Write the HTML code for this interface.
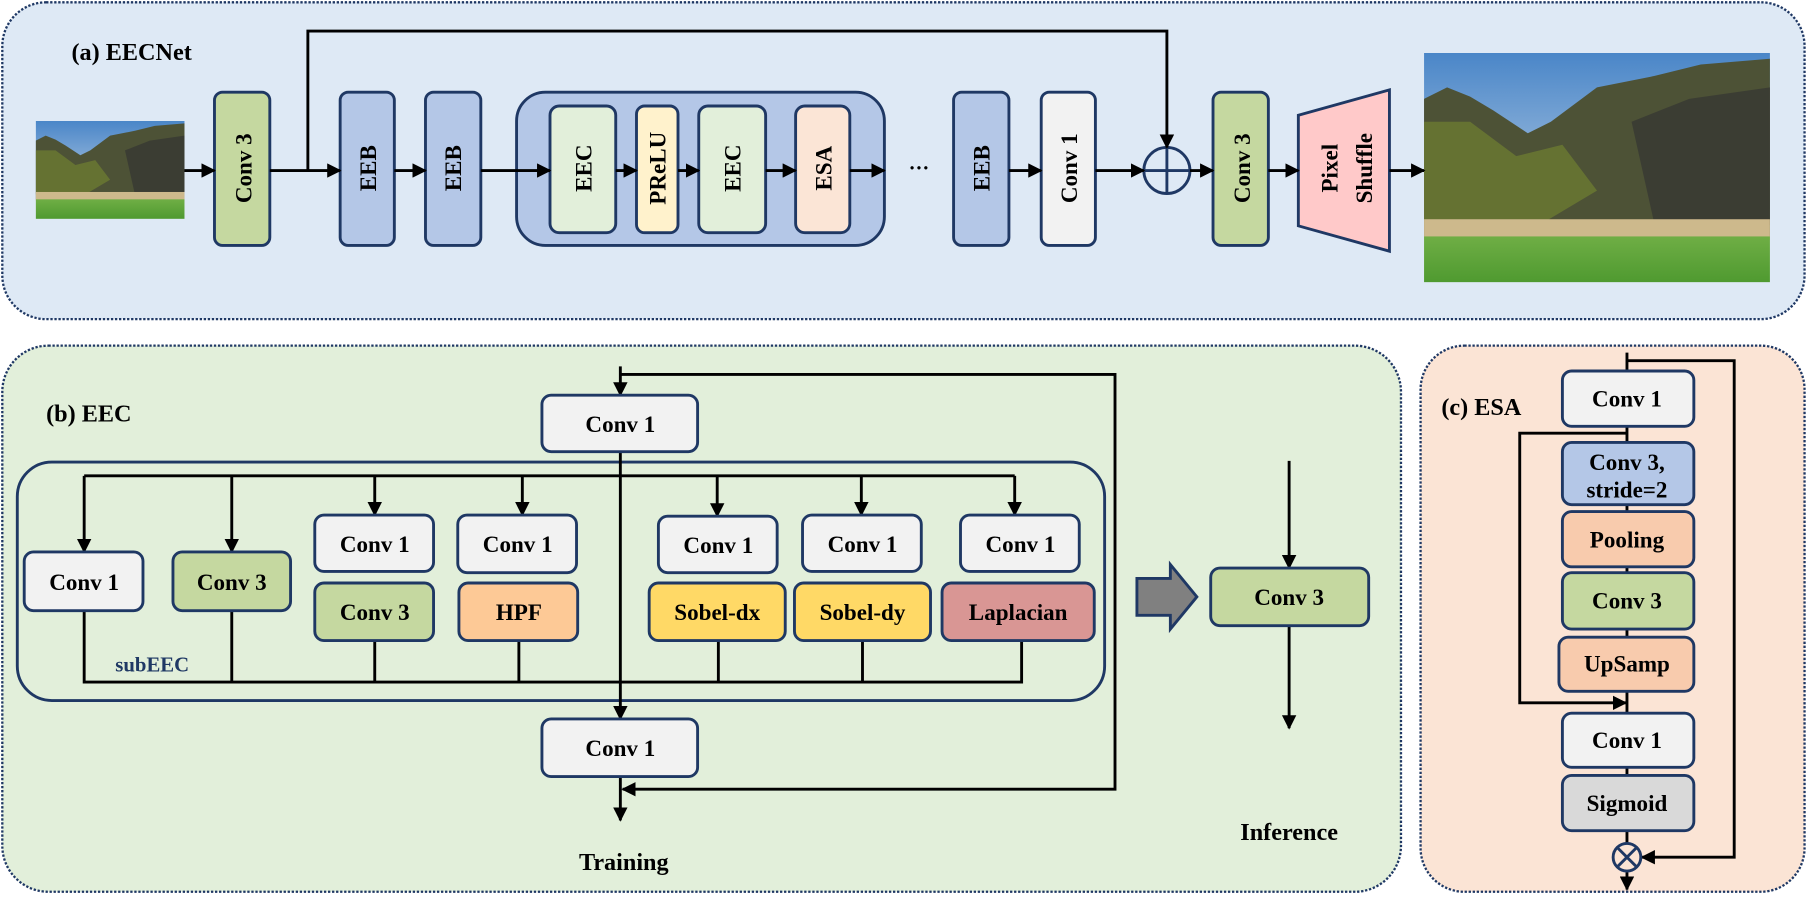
<!DOCTYPE html>
<html><head><meta charset="utf-8"><style>
html,body{margin:0;padding:0;background:#fff;overflow:hidden;}
svg{display:block;}
text{font-family:"Liberation Serif",serif;font-weight:bold;fill:#000;}
</style></head><body>
<svg width="1808" height="901" viewBox="0 0 1568 782" preserveAspectRatio="none" xmlns="http://www.w3.org/2000/svg">
<defs>
<marker id="ar" viewBox="0 0 10 10" refX="9" refY="5" markerWidth="5" markerHeight="5" orient="auto"><path d="M0,0 L10,5 L0,10 z" fill="#000"/></marker>
<linearGradient id="sky" x1="0" y1="0" x2="0" y2="1"><stop offset="0" stop-color="#4a86c8"/><stop offset="1" stop-color="#dde6ee"/></linearGradient>
<linearGradient id="grass" x1="0" y1="0" x2="0" y2="1"><stop offset="0" stop-color="#6fae45"/><stop offset="1" stop-color="#4f9a30"/></linearGradient>
<symbol id="land" viewBox="0 0 300 200" preserveAspectRatio="none">
<rect width="300" height="200" fill="url(#sky)"/>
<path d="M0,40 L20,30 L40,38 L60,50 L90,70 L110,60 L150,30 L200,20 L240,10 L300,5 L300,160 L0,160z" fill="#4d5236"/>
<path d="M0,60 L40,60 L80,90 L120,80 L150,120 L100,150 L0,150z" fill="#6c7a32" opacity="0.8"/>
<path d="M180,60 L230,40 L300,30 L300,150 L200,150z" fill="#3b3d33"/>
<rect y="145" width="300" height="18" fill="#cdb98c"/>
<rect y="160" width="300" height="40" fill="url(#grass)"/>
</symbol>
</defs>
<g stroke="#1f3864" stroke-width="2" stroke-dasharray="2 1.5">
<rect x="2" y="2" width="1563" height="275" rx="38" fill="#dee9f5"/>
<rect x="2" y="300" width="1213" height="474" rx="40" fill="#e2efda"/>
<rect x="1232" y="300" width="333" height="474" rx="38" fill="#fbe4d5"/>
</g>
<text x="62" y="52" font-size="21">(a) EECNet</text>
<use href="#land" x="31" y="105" width="129" height="85"/>
<use href="#land" x="1235" y="46" width="300" height="199"/>
<g stroke="#1f3864" stroke-width="2.5">
<rect x="186" y="80" width="48" height="133" rx="7" fill="#c5d8a0"/>
<rect x="295" y="80" width="47" height="133" rx="7" fill="#b4c7e7"/>
<rect x="369" y="80" width="48" height="133" rx="7" fill="#b4c7e7"/>
<rect x="448" y="80" width="319" height="133" rx="25" fill="#b4c7e7"/>
<rect x="477" y="92" width="57" height="110" rx="8" fill="#e2efda"/>
<rect x="552" y="92" width="36" height="110" rx="7" fill="#fff2cc"/>
<rect x="606" y="92" width="58" height="110" rx="8" fill="#e2efda"/>
<rect x="690" y="92" width="47" height="110" rx="8" fill="#fbe5d6"/>
<rect x="827" y="80" width="48" height="133" rx="7" fill="#b4c7e7"/>
<rect x="903" y="80" width="47" height="133" rx="7" fill="#f2f2f2"/>
<rect x="1052" y="80" width="48" height="133" rx="7" fill="#c5d8a0"/>
<path d="M1126,100 L1205,78 L1205,218 L1126,196 z" fill="#ffc9c9"/>
<circle cx="1012" cy="148" r="20" fill="none"/>
<line x1="992" y1="148" x2="1032" y2="148"/><line x1="1012" y1="128" x2="1012" y2="168"/>
</g>
<g stroke="#000" stroke-width="2.5" fill="none" marker-end="url(#ar)">
<line x1="160" y1="148" x2="186" y2="148"/>
<line x1="234" y1="148" x2="295" y2="148"/>
<line x1="342" y1="148" x2="369" y2="148"/>
<line x1="417" y1="148" x2="477" y2="148"/>
<line x1="534" y1="148" x2="552" y2="148"/>
<line x1="588" y1="148" x2="606" y2="148"/>
<line x1="664" y1="148" x2="690" y2="148"/>
<line x1="737" y1="148" x2="767" y2="148"/>
<line x1="875" y1="148" x2="903" y2="148"/>
<line x1="950" y1="148" x2="992" y2="148"/>
<line x1="1032" y1="148" x2="1052" y2="148"/>
<line x1="1100" y1="148" x2="1126" y2="148"/>
<line x1="1205" y1="148" x2="1235" y2="148"/>
<polyline points="267,148 267,27 1012,27 1012,128"/>
</g>
<text x="797" y="152" font-size="18" text-anchor="middle">···</text>
<g font-size="20" text-anchor="middle">
<text transform="translate(218,146) rotate(-90)">Conv 3</text>
<text transform="translate(326,146) rotate(-90)">EEB</text>
<text transform="translate(400,146) rotate(-90)">EEB</text>
<text transform="translate(513,146) rotate(-90)">EEC</text>
<text transform="translate(577,146) rotate(-90)">PReLU</text>
<text transform="translate(642,146) rotate(-90)">EEC</text>
<text transform="translate(721,146) rotate(-90)">ESA</text>
<text transform="translate(858,146) rotate(-90)">EEB</text>
<text transform="translate(934,146) rotate(-90)">Conv 1</text>
<text transform="translate(1084,146) rotate(-90)">Conv 3</text>
<text transform="translate(1160,146) rotate(-90)">Pixel</text>
<text transform="translate(1190,146) rotate(-90)">Shuffle</text>
</g>
<!-- (b) -->
<text x="40" y="366" font-size="21">(b) EEC</text>
<rect x="15" y="401" width="943" height="207" rx="30" fill="none" stroke="#1f3864" stroke-width="2.5"/>
<g stroke="#000" stroke-width="2.5" fill="none">
<polyline points="73,413 880,413"/>
<polyline points="73,530 73,592 886,592 886,556"/>
<line x1="201" y1="530" x2="201" y2="592"/><line x1="325" y1="556" x2="325" y2="592"/>
<line x1="450" y1="556" x2="450" y2="592"/><line x1="623" y1="556" x2="623" y2="592"/>
<line x1="748" y1="556" x2="748" y2="592"/>
<polyline points="538,325 967,325 967,685 540,685" marker-end="url(#ar)"/>
<line x1="538" y1="318" x2="538" y2="343" marker-end="url(#ar)"/>
<line x1="538" y1="392" x2="538" y2="624" marker-end="url(#ar)"/>
<line x1="538" y1="674" x2="538" y2="712" marker-end="url(#ar)"/>
<line x1="73" y1="413" x2="73" y2="479" marker-end="url(#ar)"/>
<line x1="201" y1="413" x2="201" y2="479" marker-end="url(#ar)"/>
<line x1="325" y1="413" x2="325" y2="447" marker-end="url(#ar)"/>
<line x1="453" y1="413" x2="453" y2="447" marker-end="url(#ar)"/>
<line x1="622" y1="413" x2="622" y2="448" marker-end="url(#ar)"/>
<line x1="747" y1="413" x2="747" y2="447" marker-end="url(#ar)"/>
<line x1="880" y1="413" x2="880" y2="447" marker-end="url(#ar)"/>
<line x1="1118" y1="400" x2="1118" y2="493" marker-end="url(#ar)"/>
<line x1="1118" y1="543" x2="1118" y2="632" marker-end="url(#ar)"/>
</g>
<g stroke="#1f3864" stroke-width="2.5">
<rect x="470" y="343" width="135" height="49" rx="8" fill="#f2f2f2"/>
<rect x="470" y="624" width="135" height="50" rx="8" fill="#f2f2f2"/>
<rect x="21" y="479" width="103" height="51" rx="8" fill="#f2f2f2"/>
<rect x="150" y="479" width="102" height="51" rx="8" fill="#c5d8a0"/>
<rect x="273" y="447" width="103" height="49" rx="8" fill="#f2f2f2"/>
<rect x="273" y="506" width="103" height="50" rx="8" fill="#c5d8a0"/>
<rect x="397" y="447" width="103" height="50" rx="8" fill="#f2f2f2"/>
<rect x="398" y="506" width="103" height="50" rx="8" fill="#fdc996"/>
<rect x="571" y="448" width="103" height="49" rx="8" fill="#f2f2f2"/>
<rect x="563" y="506" width="118" height="50" rx="8" fill="#ffd966"/>
<rect x="696" y="447" width="103" height="49" rx="8" fill="#f2f2f2"/>
<rect x="689" y="506" width="118" height="50" rx="8" fill="#ffd966"/>
<rect x="833" y="447" width="103" height="49" rx="8" fill="#f2f2f2"/>
<rect x="817" y="506" width="132" height="50" rx="8" fill="#d99694"/>
<rect x="1050" y="493" width="137" height="50" rx="8" fill="#c5d8a0"/>
<path d="M986,502 L1015,502 L1015,490 L1038,518 L1015,546 L1015,534 L986,534 z" fill="#808080"/>
</g>
<g font-size="20" text-anchor="middle">
<text x="538" y="375">Conv 1</text>
<text x="538" y="656">Conv 1</text>
<text x="73" y="512">Conv 1</text>
<text x="201" y="512">Conv 3</text>
<text x="325" y="479">Conv 1</text>
<text x="325" y="538">Conv 3</text>
<text x="449" y="479">Conv 1</text>
<text x="450" y="538">HPF</text>
<text x="623" y="480">Conv 1</text>
<text x="622" y="538">Sobel-dx</text>
<text x="748" y="479">Conv 1</text>
<text x="748" y="538">Sobel-dy</text>
<text x="885" y="479">Conv 1</text>
<text x="883" y="538">Laplacian</text>
<text x="1118" y="525">Conv 3</text>
<text x="541" y="755" font-size="21">Training</text>
<text x="1118" y="729" font-size="21">Inference</text>
</g>
<text x="100" y="583" font-size="18" style="fill:#1f3864">subEEC</text>
<!-- (c) -->
<text x="1250" y="360" font-size="21">(c) ESA</text>
<g stroke="#000" stroke-width="2.5" fill="none">
<line x1="1411" y1="306" x2="1411" y2="744"/>
<polyline points="1411,313 1504,313 1504,744 1424,744" marker-end="url(#ar)"/>
<polyline points="1411,376 1318,376 1318,610 1410,610" marker-end="url(#ar)"/>
<line x1="1411" y1="757" x2="1411" y2="772" marker-end="url(#ar)"/>
</g>
<g stroke="#1f3864" stroke-width="2.5">
<rect x="1355" y="322" width="114" height="48" rx="8" fill="#f2f2f2"/>
<rect x="1355" y="384" width="114" height="54" rx="8" fill="#b4c7e7"/>
<rect x="1355" y="444" width="114" height="48" rx="8" fill="#f8cbad"/>
<rect x="1355" y="497" width="114" height="49" rx="8" fill="#c5d8a0"/>
<rect x="1352" y="553" width="117" height="47" rx="8" fill="#f8cbad"/>
<rect x="1355" y="619" width="114" height="47" rx="8" fill="#f2f2f2"/>
<rect x="1355" y="673" width="114" height="48" rx="8" fill="#d9d9d9"/>
<circle cx="1411" cy="744" r="12" fill="#fbe4d5"/>
<line x1="1403" y1="736" x2="1419" y2="752"/><line x1="1419" y1="736" x2="1403" y2="752"/>
</g>
<g font-size="20" text-anchor="middle">
<text x="1411" y="353">Conv 1</text>
<text x="1411" y="408">Conv 3,</text>
<text x="1411" y="432">stride=2</text>
<text x="1411" y="475">Pooling</text>
<text x="1411" y="528">Conv 3</text>
<text x="1411" y="583">UpSamp</text>
<text x="1411" y="649">Conv 1</text>
<text x="1411" y="704">Sigmoid</text>
</g>
</svg>
</body></html>
